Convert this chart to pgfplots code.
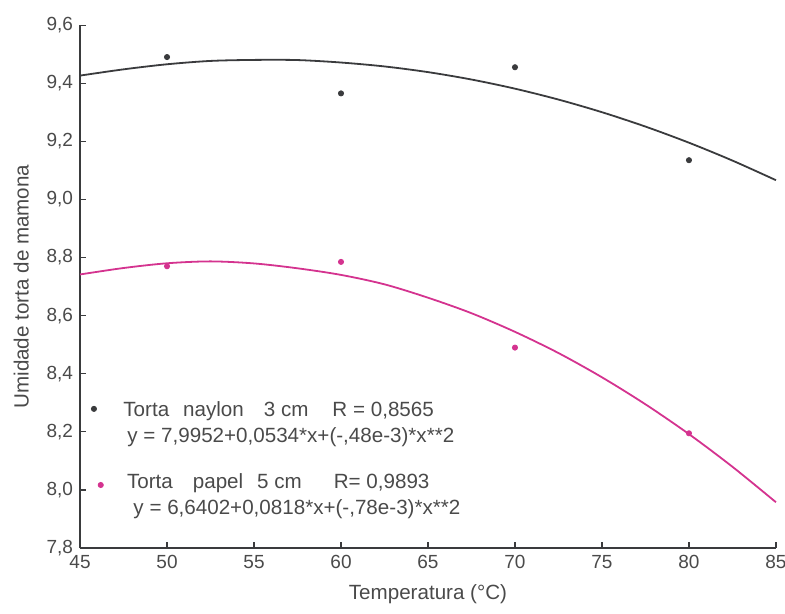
\documentclass[border=0pt]{standalone}
\usepackage{pgfplots}
\pgfplotsset{compat=1.18}
\usepackage{fontspec}
\setmainfont{Liberation Sans}
\definecolor{dk}{HTML}{3A3B3D}
\definecolor{mg}{HTML}{D4338F}
\definecolor{tx}{HTML}{4A4A4A}
\begin{document}
\begin{tikzpicture}
\begin{axis}[
  scale only axis,
  width=348pt, height=261.5pt,
  xmin=45, xmax=85, ymin=7.8, ymax=9.6,
  axis lines=left,
  axis line style={dk, line width=0.9pt, -},
  xtick={45,50,...,85},
  ytick={7.8,8.0,...,9.6},
  tick style={dk, line width=0.6pt},
  major tick length=3pt,
  tick align=inside,
  /pgf/number format/assume math mode=true,
  /pgf/number format/use comma,
  /pgf/number format/.cd, fixed, fixed zerofill, precision=1,
  /pgfplots/.cd,
  xticklabel style={/pgf/number format/precision=0, font=\fontsize{9.5}{10}\selectfont, text=tx},
  yticklabel style={font=\fontsize{9.5}{10}\selectfont, text=tx},
  xlabel={Temperatura (°C)},
  ylabel={Umidade torta de mamona},
  label style={font=\fontsize{10.3}{12}\selectfont, text=tx},
  xlabel style={yshift=-1pt},
  ylabel style={yshift=2pt},
  clip=false,
]
\addplot[dk, line width=0.9pt, smooth] coordinates {
(45,9.4262) (47.5,9.4477) (50,9.4652) (52.5,9.4767) (55,9.4802) (57.5,9.4797) (60,9.4712)
(62.5,9.4577) (65,9.4382) (67.5,9.4127) (70,9.3812) (72.5,9.3437) (75,9.3002)
(77.5,9.2507) (80,9.1952) (82.5,9.1337) (85,9.0662)};
\addplot[mg, line width=0.9pt, smooth] coordinates {
(45,8.7417) (47.5,8.7639) (50,8.7802) (52.5,8.7867) (55,8.7797) (57.5,8.7629) (60,8.7402)
(62.5,8.7077) (65,8.6617) (67.5,8.6083) (70,8.5442) (72.5,8.4712) (75,8.3877)
(77.5,8.2947) (80,8.1922) (82.5,8.0797) (85,7.9577)};
\addplot[only marks, mark=*, mark size=1.3pt, dk] coordinates {
(50,9.49) (60,9.365) (70,9.455) (80,9.135)};
\addplot[only marks, mark=*, mark size=1.3pt, mg] coordinates {
(50,8.77) (60,8.785) (70,8.49) (80,8.195)};
% legend
\addplot[only marks, mark=*, mark size=1.3pt, dk] coordinates {(45.8,8.279)};
\addplot[only marks, mark=*, mark size=1.3pt, mg] coordinates {(46.19,8.017)};
\node[anchor=west, text=tx, font=\fontsize{10.3}{12}\selectfont, inner sep=0pt] at (axis cs:47.47,8.272) {Torta\hspace{7pt}naylon\hspace{10pt}3 cm\hspace{12pt}R = 0,8565};
\node[anchor=west, text=tx, font=\fontsize{10.3}{12}\selectfont, inner sep=0pt] at (axis cs:47.7,8.182) {y = 7,9952+0,0534*x+(-,48e-3)*x**2};
\node[anchor=west, text=tx, font=\fontsize{10.3}{12}\selectfont, inner sep=0pt] at (axis cs:47.68,8.024) {Torta\hspace{10pt}papel\hspace{7pt}5 cm\hspace{16pt}R= 0,9893};
\node[anchor=west, text=tx, font=\fontsize{10.3}{12}\selectfont, inner sep=0pt] at (axis cs:48.05,7.934) {y = 6,6402+0,0818*x+(-,78e-3)*x**2};
\coordinate (bl) at (rel axis cs:-0.115,-0.126);
\coordinate (tr) at (rel axis cs:1.013,1.048);
\end{axis}
\pgfresetboundingbox
\path (bl) rectangle (tr);
\end{tikzpicture}
\end{document}
